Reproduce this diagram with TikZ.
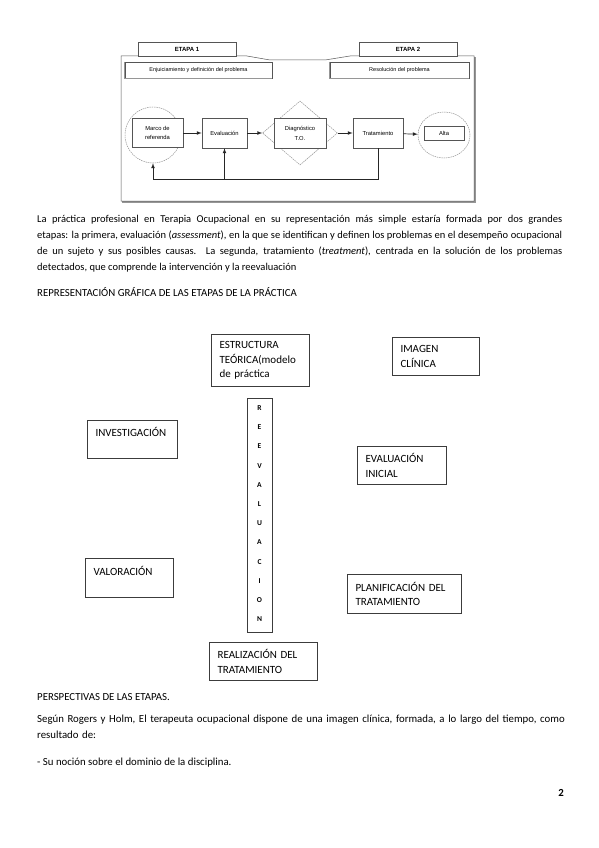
\documentclass[tikz,border=0pt]{standalone}
\usepackage{fontspec}
\setmainfont{Carlito}
\newfontfamily\arialfont{Liberation Sans}
\usetikzlibrary{shapes,arrows,positioning}
\definecolor{LineGray}{RGB}{85,85,85}
\definecolor{SoftGray}{RGB}{150,150,150}
\definecolor{BoxGray}{RGB}{60,60,60}
\newcommand{\singuiones}{\hyphenpenalty=10000 \emergencystretch=20pt }

\tikzset{
  flujo/.style={draw=LineGray, line width=0.6pt, fill=white, inner sep=0pt,
    align=center, font=\arialfont\fontsize{5.8}{8}\selectfont},
  contorno/.style={draw=SoftGray, line width=0.5pt, dash pattern=on 1.5pt off 0.8pt,
    inner sep=0pt},
  flecha/.style={draw=black!85, line width=0.7pt, -latex},
  etapa/.style={draw=LineGray, line width=0.6pt, fill=white, inner sep=0pt,
    minimum width=98pt, minimum height=14pt, font=\arialfont\bfseries\fontsize{6}{7}\selectfont},
  subtitulo/.style={draw=LineGray, line width=0.6pt, fill=white, inner sep=0pt,
    minimum height=16pt, font=\arialfont\fontsize{5.5}{7}\selectfont},
  caja/.style={draw=BoxGray, line width=1.1pt, anchor=north west, align=left,
    inner xsep=8pt, inner ysep=0pt, font=\fontsize{11}{14.5}\selectfont},
  parrafo/.style={anchor=north west, inner sep=0pt, text width=525pt,
    font=\fontsize{10.5}{16}\selectfont\singuiones},
  linea/.style={anchor=west, inner sep=0pt, font=\fontsize{10.8}{16}\selectfont}
}

\begin{document}
\begin{tikzpicture}[x=1pt, y=-1pt]
  \useasboundingbox[fill=white] (0,0) rectangle (599,848);

  % etapas: marco general
  \draw[SoftGray, line width=1.2pt] (122,202) -- (475,202) -- (475,57);
  \draw[LineGray, line width=0.5pt] (121,201) -- (121,56) -- (247,56) -- (270,60)
    -- (325,60) -- (350,56) -- (474,56) -- (474,201) -- cycle;
  \node[etapa] (etapa1) at (187,49) {ETAPA 1};
  \node[etapa] (etapa2) at (408,49) {ETAPA 2};
  \node[subtitulo, minimum width=147pt] (enjuic) at (198.5,70) {Enjuiciamiento y definición del problema};
  \node[subtitulo, minimum width=139pt] (resol) at (399.5,70) {Resolución del problema};
  \draw[SoftGray, line width=1.2pt] (enjuic.north west) -- (enjuic.south west) -- (enjuic.south east);
  \draw[SoftGray, line width=1.2pt] (resol.north west) -- (resol.south west) -- (resol.south east);

  % flujo
  \node[contorno, ellipse, minimum width=56pt, minimum height=56pt] (marcoC) at (153,135) {};
  \node[flujo, minimum width=51pt, minimum height=29pt] (marco) at (157.5,133) {Marco de\\[1pt]referenda};
  \node[flujo, minimum width=45pt, minimum height=30pt] (eval) at (224.5,133) {Evaluación};
  \node[contorno, diamond, aspect=1.17, minimum width=75pt, minimum height=64pt] (diam) at (300,133) {};
  \node[flujo, minimum width=52pt, minimum height=30pt] (diag) at (300,133) {Diagnóstico\\[2pt]T.O.};
  \node[flujo, minimum width=50pt, minimum height=30pt] (trat) at (378,133) {Tratamiento};
  \node[contorno, ellipse, minimum width=52pt, minimum height=46pt] (altaC) at (444,135) {};
  \node[flujo, minimum width=40pt, minimum height=14pt] (alta) at (444,133) {Alta};

  \draw[flecha] (marco) -- (eval);
  \draw[flecha] (eval) -- (diam);
  \draw[flecha] (diam) -- (trat);
  \draw[flecha] (trat) -- (altaC);
  \path (trat.south) ++(0,31) coordinate (fondo);
  \draw[flecha] (trat.south) -- (fondo) -| (marcoC.south);
  \draw[flecha] (eval.south |- fondo) -- (eval.south);

  % texto
  \node[parrafo, align=justify] (intro) at (37,215) {La práctica profesional en Terapia Ocupacional en su representación más simple estaría formada por dos grandes\linebreak
    etapas: la primera, evaluación (\textit{assessment}), en la que se identifican y definen los problemas en el desempeño ocupacional\linebreak
    de un sujeto y sus posibles causas. La segunda, tratamiento (\textit{treatment}), centrada en la solución de los problemas\linebreak
    detectados, que comprende la intervención y la reevaluación};
  \node[linea] (titulo) at (37,292) {REPRESENTACIÓN GRÁFICA DE LAS ETAPAS DE LA PRÁCTICA};

  % etapas de la practica
  \node[caja, text width=82pt, minimum height=52pt] (estructura) at (211,334) {ESTRUCTURA\\TEÓRICA(modelo\\de práctica};
  \node[caja, text width=71pt, minimum height=38pt] (imagen) at (392,337) {IMAGEN\\CLÍNICA};
  \node[caja, text width=74pt, minimum height=38pt] (investig) at (87,420) {INVESTIGACIÓN\\\mbox{}};
  \node[caja, text width=73pt, minimum height=38pt] (evalini) at (357,446) {EVALUACIÓN\\INICIAL};
  \node[caja, text width=72pt, minimum height=39pt] (valor) at (85,558) {VALORACIÓN\\\mbox{}};
  \node[caja, text width=98pt, minimum height=39pt] (planif) at (347,574) {PLANIFICACIÓN DEL\\TRATAMIENTO};
  \node[caja, text width=92pt, minimum height=38pt] (realiz) at (209,642) {REALIZACIÓN DEL\\TRATAMIENTO};
  \node[caja, inner xsep=0pt, minimum width=25pt, minimum height=234pt] (reeval) at (247,398) {};
  \foreach \l [count=\i] in {R,E,E,V,A,L,U,A,C,I,O,N}
    \node[font=\bfseries\fontsize{7.5}{8}\selectfont, inner sep=0pt] (letra\i) at (259.5,{408+19.2*(\i-1)}) {\l};

  % texto final
  \node[linea] (perspect) at (37,697) {PERSPECTIVAS DE LAS ETAPAS.};
  \node[parrafo, align=left, text width=545pt, font=\fontsize{10.8}{16}\selectfont] (segun) at (37,715) {Según Rogers y Holm, El terapeuta ocupacional dispone de una imagen clínica, formada, a lo largo del tiempo, como\\
    resultado de:};
  \node[linea] (nocion) at (37,763) {- Su noción sobre el dominio de la disciplina.};
  \node[linea, anchor=center] (pagina) at (561,793) {\bfseries 2};
\end{tikzpicture}
\end{document}
